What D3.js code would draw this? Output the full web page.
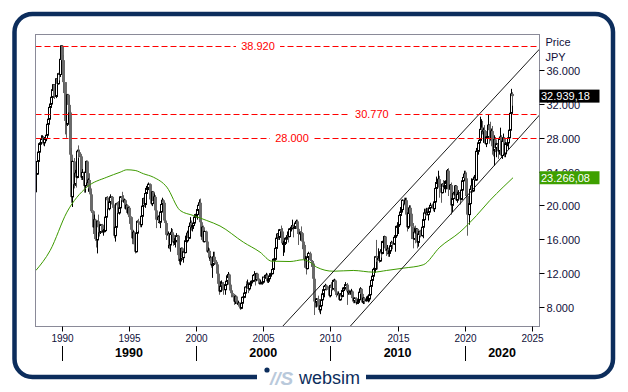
<!DOCTYPE html>
<html><head><meta charset="utf-8">
<script src="https://cdn.jsdelivr.net/npm/d3@7"></script>
<style>
body{margin:0;background:#fff;}
svg{display:block;font-family:"Liberation Sans",Arial,sans-serif;}
</style>
</head><body>
<svg id="chart" width="628" height="392"></svg>
<script>
// ---------- DATA (prices in thousands of JPY, monthly candles from Jan 1988) ----------
const startYear = 1988;
const firstOpen = 21.6;
const closes = [
23.7,25.2,26.3,27.3,27.4,27.8,28.0,27.4,27.9,28.3,29.6,30.2,
31.6,32.0,32.8,33.7,34.3,32.9,35.0,34.4,35.6,35.5,37.3,38.9,
37.2,34.6,30.0,29.6,33.1,31.9,31.0,26.0,21.0,25.2,22.5,23.8,
23.3,26.4,26.3,26.1,25.8,23.3,23.9,22.3,23.9,25.2,22.7,23.0,
22.0,21.3,19.3,17.4,18.3,16.0,15.9,18.1,17.4,16.8,17.7,16.9,
17.0,17.0,18.6,20.9,20.6,19.6,20.4,21.0,20.1,19.7,16.4,17.4,
20.2,20.0,19.1,19.7,21.0,20.6,20.4,20.6,19.6,20.0,19.1,19.7,
18.6,17.1,16.1,16.8,15.4,14.5,16.7,18.1,17.9,17.7,18.7,19.9,
20.8,20.1,21.4,22.0,22.0,22.5,20.7,20.2,21.6,20.5,21.0,19.4,
18.3,18.6,18.0,19.2,20.1,20.6,20.3,18.2,17.9,16.5,16.6,15.3,
16.6,16.8,16.5,15.6,15.7,15.8,16.4,14.1,13.4,13.6,14.9,13.8,
14.5,14.4,15.8,16.7,16.1,17.5,17.9,17.4,17.6,17.9,18.6,18.9,
19.5,20.0,20.3,18.0,16.3,17.4,15.7,16.9,15.7,14.5,14.6,13.8,
13.8,12.9,13.0,13.9,13.3,13.0,11.9,10.7,9.8,10.4,10.7,10.5,
10.0,10.6,11.0,11.5,11.8,10.6,9.9,9.6,9.4,8.6,9.2,8.6,
8.3,8.4,8.0,7.8,8.4,9.1,9.6,10.3,10.2,10.6,10.1,10.7,
10.8,11.0,11.7,11.8,11.2,11.9,11.3,11.1,10.8,10.8,10.9,11.5,
11.4,11.7,11.7,11.0,11.3,11.6,11.9,12.4,13.6,13.6,14.9,16.1,
16.6,16.2,17.1,16.9,15.5,15.5,15.5,16.1,16.1,16.4,16.3,17.2,
17.4,17.6,17.3,17.4,17.9,18.1,17.2,16.6,16.8,16.7,15.7,15.3,
13.6,13.6,12.5,13.9,14.3,13.5,13.4,13.1,11.3,8.6,8.5,8.9,
8.0,7.6,8.1,8.8,9.5,10.0,10.4,10.5,10.1,10.0,9.3,10.5,
10.2,10.1,11.1,11.1,9.8,9.4,9.5,8.8,9.4,9.2,9.9,10.2,
10.2,10.6,9.8,9.8,9.7,9.8,9.8,9.0,8.7,9.0,8.4,8.5,
8.8,9.7,10.1,9.5,8.5,9.0,8.7,8.8,8.9,8.9,9.4,10.4,
11.1,11.6,12.4,13.9,13.8,13.7,13.7,13.4,14.5,14.3,15.7,16.3,
14.9,14.8,14.8,14.3,14.6,15.2,15.6,15.4,16.2,16.4,17.5,17.5,
17.7,18.8,19.2,19.5,20.6,20.2,20.6,18.9,17.4,19.1,19.7,19.0,
17.5,16.0,16.8,16.7,17.2,15.6,16.6,16.9,16.4,17.4,18.3,19.1,
19.0,19.1,18.9,19.2,19.7,20.0,19.9,19.6,20.4,22.0,22.7,22.8,
23.1,22.1,21.5,22.5,22.2,22.3,22.6,22.9,24.1,21.9,22.4,20.0,
20.8,21.4,21.2,22.3,20.6,21.3,21.5,20.7,21.8,22.9,23.3,23.7,
23.2,21.1,18.9,20.2,21.9,22.3,21.7,23.1,23.2,23.0,26.4,27.4,
27.7,29.0,29.2,28.8,28.9,28.8,27.3,28.1,29.5,28.9,27.8,28.8,
27.0,26.5,27.8,26.8,27.3,26.4,27.8,28.1,25.9,27.6,28.0,26.1,
27.3,27.4,28.0,28.9,30.9,33.2,32.94
];
const highs = [
23.9,25.4,26.4,27.4,27.6,28.3,28.3,28.2,28.1,28.5,29.7,30.2,
31.9,32.4,32.9,33.8,34.3,34.3,35.0,35.1,35.7,35.8,37.3,38.95,
38.9,37.8,34.6,30.6,33.2,33.2,33.0,31.2,26.8,25.3,25.6,24.2,
24.2,26.6,27.1,26.6,26.2,25.9,24.3,24.0,24.0,25.3,25.3,23.2,
23.8,22.2,21.6,19.4,18.9,18.4,16.3,18.2,18.9,17.5,17.8,17.8,
17.2,17.4,18.7,21.0,21.1,20.9,20.5,21.3,21.1,20.5,19.8,17.8,
20.3,20.4,20.5,20.0,21.1,21.6,21.2,20.8,20.7,20.1,20.1,19.8,
19.9,18.7,17.2,17.0,16.9,15.5,16.8,18.2,18.4,18.3,18.8,20.0,
20.9,21.1,21.5,22.3,22.3,22.7,22.6,21.1,21.7,21.7,21.4,21.2,
19.5,18.8,19.1,19.3,20.2,20.9,20.7,20.4,18.4,18.0,16.9,16.7,
16.8,17.3,17.2,16.6,16.1,15.9,16.7,16.5,14.4,14.4,15.0,15.0,
14.6,14.6,16.4,17.0,16.8,17.6,18.6,18.2,17.9,18.1,18.7,19.0,
19.6,20.1,20.7,20.8,18.1,17.5,17.6,17.0,17.0,15.8,15.0,14.9,
14.0,13.9,13.1,14.5,14.5,13.5,13.1,12.2,11.1,11.0,11.1,10.9,
10.9,10.7,11.7,11.7,12.1,11.9,10.8,10.2,9.9,9.5,9.3,9.3,
8.8,8.7,8.5,8.2,8.5,9.2,10.0,10.4,11.0,11.2,10.9,10.8,
11.0,11.1,11.8,12.2,11.9,12.0,12.0,11.4,11.3,11.2,11.1,11.5,
11.6,11.8,12.0,11.9,11.4,11.7,12.0,12.5,13.7,13.8,15.0,16.3,
16.7,16.8,17.2,17.6,17.3,15.8,15.7,16.2,16.4,16.9,16.5,17.3,
17.6,18.3,17.7,17.7,18.0,18.3,18.3,17.3,16.9,17.5,16.8,16.1,
15.4,14.0,13.7,14.0,14.5,14.5,13.6,13.5,13.2,11.5,9.5,9.0,
9.3,8.1,8.8,9.0,9.7,10.2,10.5,10.7,10.6,10.4,10.1,10.6,
10.9,10.5,11.2,11.3,11.2,10.2,9.8,9.6,9.6,9.7,10.2,10.3,
10.5,10.9,10.8,9.9,10.0,9.9,10.1,9.9,9.1,9.1,9.1,8.8,
8.9,9.9,10.3,10.2,9.6,9.1,9.1,9.2,9.3,9.1,9.5,10.5,
11.2,11.7,12.6,14.0,15.9,14.0,14.9,14.1,14.8,14.8,15.8,16.4,
16.3,15.0,15.3,15.0,14.7,15.4,15.8,15.7,16.4,16.5,17.6,18.0,
17.9,18.9,19.8,20.1,20.7,20.9,20.9,20.9,19.1,19.2,20.0,20.0,
19.1,17.9,17.3,17.6,17.3,17.3,16.8,17.0,17.1,17.5,18.4,19.6,
19.6,19.7,19.7,19.4,19.8,20.3,20.2,20.1,20.5,22.1,23.4,23.0,
24.1,23.5,22.5,22.6,23.0,22.9,22.9,23.0,24.3,24.4,22.5,22.7,
20.9,21.6,21.8,22.4,22.4,21.6,21.8,21.6,22.2,23.0,23.6,24.1,
24.1,23.9,21.7,20.4,22.0,23.2,22.9,23.4,23.6,23.7,26.8,27.6,
28.9,30.5,30.2,30.0,29.2,29.5,28.9,28.2,30.8,29.6,29.9,29.1,
29.4,27.4,28.3,28.1,27.4,28.0,27.9,29.2,28.3,27.7,28.5,28.1,
27.5,27.7,28.7,29.1,31.4,33.8,33.4
];
const lows = [
21.2,23.6,25.0,26.1,26.8,27.2,27.4,27.1,27.0,27.6,28.2,29.2,
30.2,31.2,31.7,32.7,33.6,32.6,32.7,34.3,34.3,34.8,35.2,37.0,
36.9,33.3,28.4,28.0,29.4,31.2,30.6,23.6,20.3,19.8,22.0,22.3,
22.1,23.2,25.6,25.7,25.0,23.0,23.0,21.5,21.5,23.7,22.3,21.6,
21.5,20.6,19.1,16.6,17.2,15.8,15.0,14.3,17.3,16.3,16.6,16.7,
16.4,16.8,16.9,18.3,20.2,19.5,19.4,20.3,19.8,19.5,16.1,15.7,
17.3,19.4,19.0,18.9,19.5,20.5,20.3,20.2,19.5,19.4,18.9,18.8,
17.8,16.9,15.4,15.4,15.3,14.3,14.4,16.5,17.0,17.4,17.4,18.6,
19.6,19.8,19.7,21.1,21.4,21.8,20.6,20.0,19.9,20.4,20.3,19.2,
17.3,17.9,17.8,17.3,19.0,20.0,19.8,18.0,17.2,15.9,14.9,14.8,
14.5,16.2,16.3,15.2,15.3,15.0,15.7,13.9,13.0,12.9,13.5,13.6,
13.2,13.9,14.3,15.6,16.0,16.0,17.4,17.0,16.9,17.2,17.8,18.2,
18.3,19.3,19.4,17.5,15.9,15.9,15.6,15.6,15.5,14.4,14.0,13.4,
13.4,12.6,11.4,12.8,13.1,12.6,11.6,10.6,9.4,9.7,10.2,9.9,
9.4,9.4,10.5,10.9,11.3,10.1,9.6,9.1,9.1,8.2,8.3,8.4,
8.2,8.2,7.8,7.6,7.7,8.3,9.0,9.3,10.0,10.2,9.6,9.9,
10.4,10.4,10.9,11.6,10.5,11.0,11.1,10.7,10.7,10.7,10.6,10.8,
11.3,11.3,11.6,10.8,10.8,11.2,11.5,11.8,12.3,13.0,13.5,14.8,
15.1,15.9,15.9,16.8,15.3,14.0,14.4,15.3,15.5,16.0,15.6,16.2,
16.9,17.3,16.2,17.2,17.2,17.7,17.1,15.3,15.8,16.4,14.8,15.1,
12.6,13.0,11.8,12.4,13.6,13.4,12.7,12.7,11.1,7.0,7.9,7.9,
7.7,7.3,7.1,8.0,8.7,9.4,9.1,10.2,9.9,9.9,9.1,9.1,
10.0,9.9,10.0,10.8,9.4,9.1,9.1,8.7,8.7,9.0,9.1,9.8,
10.0,10.1,8.2,9.4,9.4,9.4,9.7,8.6,8.4,8.4,8.2,8.3,
8.3,8.7,9.6,9.4,8.4,8.3,8.3,8.6,8.7,8.5,8.6,9.3,
10.3,10.9,11.5,12.0,13.3,12.4,13.5,13.2,13.3,13.8,14.2,15.0,
14.6,14.0,14.2,13.9,13.9,14.5,15.1,14.8,15.3,14.5,16.3,16.7,
16.6,17.6,18.7,19.0,19.3,20.0,19.1,17.7,16.9,17.2,19.0,18.5,
16.0,14.9,15.9,15.5,16.0,14.9,15.1,16.2,16.2,16.3,16.1,18.1,
18.7,18.8,18.8,18.2,19.1,19.6,19.8,19.3,19.2,20.3,21.9,22.2,
22.7,20.9,20.3,21.4,21.9,21.9,21.5,21.9,22.3,21.1,21.2,18.9,
19.2,20.3,20.9,21.2,20.5,20.3,21.1,20.1,20.6,21.3,22.8,23.0,
22.9,20.9,16.4,17.7,19.6,21.5,21.5,21.6,22.9,22.9,22.9,26.0,
27.0,27.6,28.3,28.4,27.4,28.0,27.2,26.9,28.0,27.3,27.6,27.6,
26.0,25.8,24.7,26.3,25.7,25.5,26.0,27.6,25.6,25.5,27.4,25.7,
25.7,27.0,26.6,27.4,28.8,30.8,31.8
];
// moving average (green), read as [decimal year, value]
const maYears = [1988.07,1989.13,1990.38,1991.86,1993.35,1994.34,1994.84,1995.46,1996.08,1996.82,1997.82,1998.81,1999.8,2000.79,2001.78,2003.52,2004.76,2005.63,2006.99,2007.98,2008.48,2008.98,2010.21,2011.7,2013.19,2014.19,2015.42,2016.91,2018.15,2019.64,2020.88,2021.87,2022.86,2023.6];
const maValues = [12.28,14.65,19.19,22.15,23.33,23.92,24.21,24.13,23.74,23.33,22.15,19.39,18.79,18.2,17.55,15.63,14.45,13.38,13.34,13.55,13.26,12.67,12.19,12.28,12.08,12.28,12.55,12.95,15.04,16.82,18.79,20.57,22.15,23.27];
// trend channel lines [decimal year, value]
const channelUpper = [[2006.43, 5.64],[2025.57, 38.51]];
const channelLower = [[2011.46, 5.64],[2025.57, 30.70]];
// horizontal levels
const levels = [38.92, 30.77, 28.0];
const levelLabels = ["38.920", "30.770", "28.000"];
const levelLabelYears = [2004.61, 2013.09, 2007.14];
// axes
const yTicks = [8, 12, 16, 20, 24, 28, 32, 36];
const xTickYears = [1990, 1995, 2000, 2005, 2010, 2015, 2020, 2025];
const decades = [1990, 2000, 2010, 2020];
// tags
const lastPrice = 32.93918, lastPriceLabel = "32.939,18";
const maLast = 23.26608, maLastLabel = "23.266,08";

// ---------- LAYOUT ----------
const svg = d3.select("#chart");
const L = 35.5, T = 34.5, R = 539.5, B = 326.5;
const navy = "#0c2d5c";
const yd = t => { const y = Math.floor(t); const s = new Date(y,0,1), e = new Date(y+1,0,1); return new Date(+s + (t-y)*(e-s)); };
const x = d3.scaleTime().domain([yd(1988.04), yd(2025.57)]).range([L, R]);
const y = d3.scaleLinear().domain([5.64, 40.24]).range([B, T]);
const loc = d3.formatLocale({decimal: ",", thousands: ".", grouping: [3], currency: ["", ""]});
const fmt = loc.format(",d");

// frame
svg.append("rect").attr("x", 14.5).attr("y", 14).attr("width", 598.5).attr("height", 363)
  .attr("rx", 18).attr("fill", "none").attr("stroke", navy).attr("stroke-width", 4.5);
svg.append("rect").attr("x", 257).attr("y", 370).attr("width", 109).attr("height", 15).attr("fill", "#fff");

// plot area
svg.append("rect").attr("x", L).attr("y", T).attr("width", R-L).attr("height", B-T)
  .attr("fill", "#fff").attr("stroke", "#8a8a98").attr("stroke-width", 1);
svg.append("clipPath").attr("id", "clip").append("rect")
  .attr("x", L+0.5).attr("y", T+0.5).attr("width", R-L-1).attr("height", B-T-1);
const g = svg.append("g").attr("clip-path", "url(#clip)");

// candles
const candles = closes.map((c, i) => ({
  date: new Date(startYear, i, 15),
  o: i === 0 ? firstOpen : closes[i-1], c, h: highs[i], l: lows[i]
}));
const cg = g.append("g");
candles.forEach(d => {
  const up = d.c >= d.o;
  const cx = Math.round(x(d.date));
  cg.append("line").attr("x1", cx+0.5).attr("x2", cx+0.5)
    .attr("y1", y(Math.max(d.h, d.o, d.c))).attr("y2", y(Math.min(d.l, d.o, d.c)))
    .attr("stroke", up ? "#000" : "#5e5e5e").attr("stroke-width", 1);
  const top = y(Math.max(d.o, d.c)), bot = y(Math.min(d.o, d.c));
  if (up) {
    cg.append("rect").attr("x", cx-0.5).attr("y", top).attr("width", 2).attr("height", Math.max(1, bot-top))
      .attr("fill", "#fff").attr("stroke", "#000").attr("stroke-width", 1);
  } else {
    cg.append("rect").attr("x", cx-1).attr("y", top).attr("width", 3).attr("height", Math.max(1, bot-top))
      .attr("fill", "#6a6a6a");
  }
});

// moving average
g.append("path")
  .datum(maYears.map((t, i) => [yd(t), maValues[i]]))
  .attr("d", d3.line().x(d => x(d[0])).y(d => y(d[1])).curve(d3.curveMonotoneX))
  .attr("fill", "none").attr("stroke", "#3d9a00").attr("stroke-width", 1);

// channel
[channelUpper, channelLower].forEach(ch => {
  g.append("line").attr("x1", x(yd(ch[0][0]))).attr("y1", y(ch[0][1]))
    .attr("x2", x(yd(ch[1][0]))).attr("y2", y(ch[1][1]))
    .attr("stroke", "#000").attr("stroke-width", 0.9);
});

// levels
levels.forEach((v, i) => {
  const yy = Math.round(y(v)) + 0.5;
  g.append("line").attr("x1", L).attr("x2", R).attr("y1", yy).attr("y2", yy)
    .attr("stroke", "#ff0000").attr("stroke-width", 1).attr("stroke-dasharray", "6,3");
  const lx = x(yd(levelLabelYears[i]));
  g.append("rect").attr("x", lx-22).attr("y", yy-6).attr("width", 44).attr("height", 12).attr("fill", "#fff");
  g.append("text").attr("x", lx).attr("y", yy).attr("dy", "0.35em").attr("text-anchor", "middle")
    .attr("font-size", 11).attr("fill", "#ff0000").text(levelLabels[i]);
});

// right axis
const txtColor = "#10103a";
yTicks.forEach(v => {
  const yy = Math.round(y(v)) + 0.5;
  svg.append("line").attr("x1", R).attr("x2", R+5).attr("y1", yy).attr("y2", yy).attr("stroke", "#000");
  svg.append("text").attr("x", R+7).attr("y", yy).attr("dy", "0.38em").attr("font-size", 11)
    .attr("fill", txtColor).text(fmt(v*1000));
});
svg.append("text").attr("x", R+6).attr("y", 42).attr("dy", "0.35em").attr("font-size", 11).attr("fill", txtColor).text("Price");
svg.append("text").attr("x", R+6).attr("y", 57.5).attr("dy", "0.35em").attr("font-size", 11).attr("fill", txtColor).text("JPY");

// tags
[[lastPrice, lastPriceLabel, "#000"], [maLast, maLastLabel, "#3ea000"]].forEach(([v, lab, col]) => {
  const yy = y(v);
  svg.append("rect").attr("x", R).attr("y", yy-6.5).attr("width", 60).attr("height", 13).attr("fill", col);
  svg.append("text").attr("x", R+1.5).attr("y", yy).attr("dy", "0.36em").attr("font-size", 11)
    .attr("fill", "#fff").text(lab);
});

// bottom axis
xTickYears.forEach(yr => {
  const xx = Math.round(x(new Date(yr, 0, 1))) + 0.5;
  svg.append("line").attr("x1", xx).attr("x2", xx).attr("y1", B).attr("y2", B+5).attr("stroke", "#000");
  svg.append("text").attr("x", xx).attr("y", 338).attr("dy", "0.35em").attr("text-anchor", "middle")
    .attr("font-size", 10).attr("fill", txtColor).text(yr);
});
const [d0, d1] = x.domain();
decades.forEach(dec => {
  const xx = Math.round(x(new Date(dec, 0, 1))) + 0.5;
  svg.append("line").attr("x1", xx).attr("x2", xx).attr("y1", 346).attr("y2", 361).attr("stroke", "#000");
  const a = Math.max(+new Date(dec,0,1), +d0), b = Math.min(+new Date(dec+10,0,1), +d1);
  svg.append("text").attr("x", x(new Date((a+b)/2))).attr("y", 353).attr("dy", "0.35em").attr("text-anchor", "middle")
    .attr("font-size", 12.5).attr("font-weight", "bold").attr("fill", "#000").text(dec);
});

// logo
svg.append("circle").attr("cx", 267).attr("cy", 370).attr("r", 2.6).attr("fill", navy);
svg.append("text").attr("x", 270).attr("y", 385).attr("font-size", 19).attr("font-weight", "bold")
  .attr("font-style", "italic").attr("fill", "#b9c9db").text("//S");
svg.append("text").attr("x", 299).attr("y", 384).attr("font-size", 18).attr("fill", navy).text("websim");
</script>
</body></html>
